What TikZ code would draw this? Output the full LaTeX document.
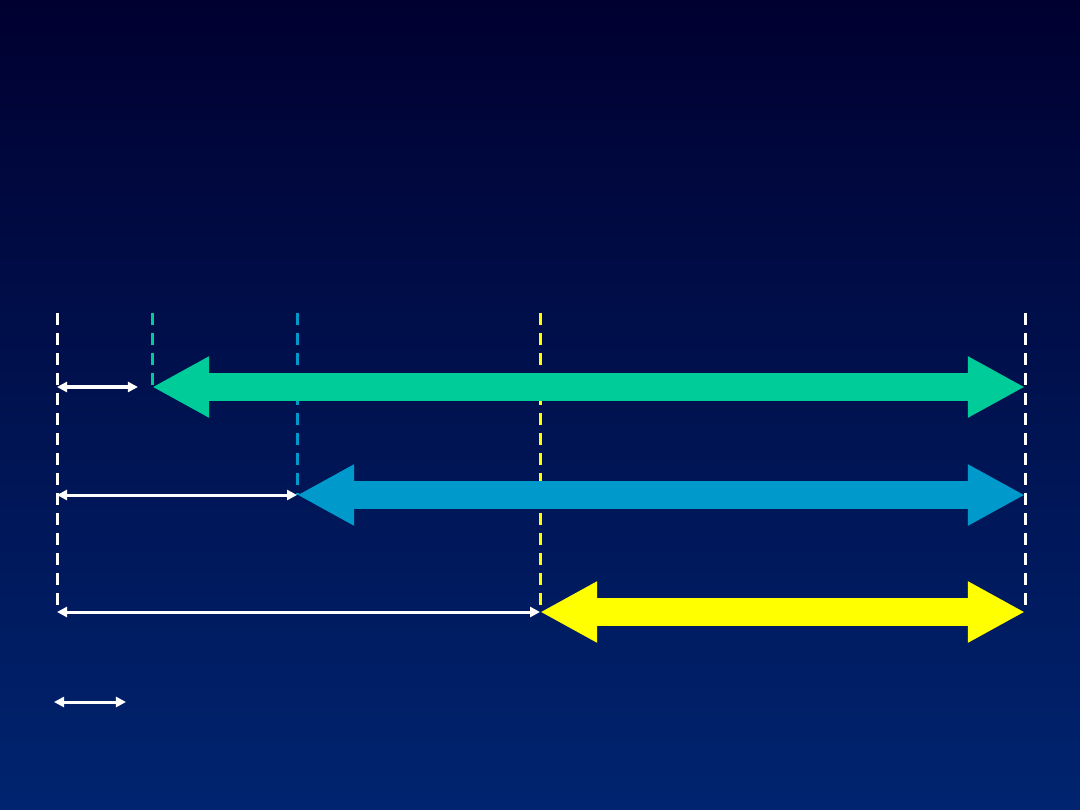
\documentclass[tikz,border=0pt]{standalone}
\usetikzlibrary{arrows.meta}
\definecolor{bgtop}{HTML}{000030}
\definecolor{bgbot}{HTML}{002470}
\definecolor{fgreen}{HTML}{00CC99}
\definecolor{fblue}{HTML}{0099CC}
\definecolor{fyellow}{HTML}{FFFF00}
\begin{document}
\begin{tikzpicture}[x=0.01cm,y=-0.01cm,
    mark line/.style={line width=0.03cm, dash pattern=on 0.12cm off 0.08cm},
    big arrow/.style={line width=0.28cm, {Triangle[width=0.57cm,length=0.57cm]}-{Triangle[width=0.57cm,length=0.57cm]}},
    span arrow/.style={white, line width=0.03cm, {Triangle[width=0.1cm,length=0.1cm]}-{Triangle[width=0.1cm,length=0.1cm]}}]
  \shade[top color=bgtop, bottom color=bgbot] (0,0) rectangle (1080,810);
  \useasboundingbox (0,0) rectangle (1080,810);
  % time marks
  \coordinate (T0) at (57,313);
  \coordinate (T1) at (152,313);
  \coordinate (T2) at (297,313);
  \coordinate (T3) at (540,313);
  \coordinate (T4) at (1025,313);
  \coordinate (A1) at (57,387);
  \coordinate (B1) at (152,387);
  \coordinate (E1) at (1025,387);
  \coordinate (A2) at (57,495);
  \coordinate (B2) at (297,495);
  \coordinate (E2) at (1025,495);
  \coordinate (A3) at (57,612);
  \coordinate (B3) at (540,612);
  \coordinate (E3) at (1025,612);
  \coordinate (K0) at (54,702);
  \coordinate (K1) at (126,702);
  \draw[mark line, white] (T0) -- (A3);
  \draw[mark line, fgreen] (T1) -- (B1);
  \draw[mark line, fblue] (T2) -- (B2);
  \draw[mark line, fyellow] (T3) -- (B3);
  \draw[mark line, white] (T4) -- (E3);
  \draw[big arrow, fgreen] (B1) -- (E1);
  \draw[big arrow, fblue] (B2) -- (E2);
  \draw[big arrow, fyellow] (B3) -- (E3);
  \draw[span arrow] (A1) -- ([xshift=-4]B1);
  \draw[span arrow] (A2) -- (B2);
  \draw[span arrow] (A3) -- (B3);
  \draw[span arrow] (K0) -- (K1);
\end{tikzpicture}
\end{document}
